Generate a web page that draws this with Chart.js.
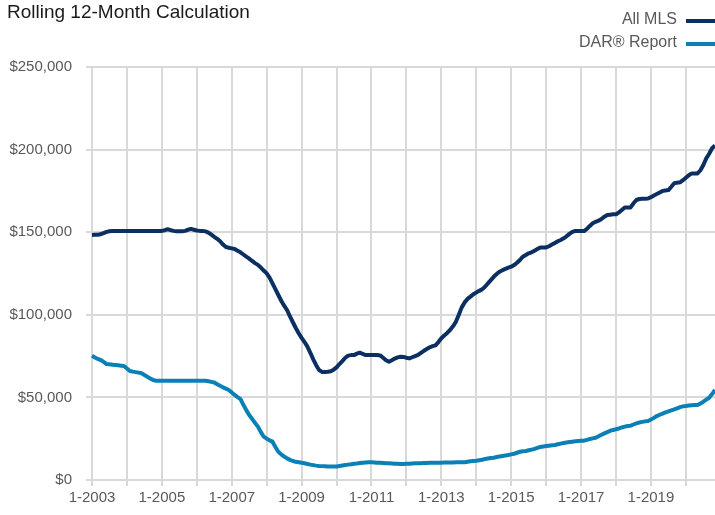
<!DOCTYPE html>
<html>
<head>
<meta charset="utf-8">
<script src="https://cdn.jsdelivr.net/npm/chart.js@4"></script>
<style>
  html, body { margin: 0; padding: 0; background: #fff; overflow: hidden; }
  #wrap { width: 715px; height: 515px; position: relative; }
</style>
</head>
<body>
<div id="wrap"><canvas id="chartRolling"></canvas></div>
<script>
const years = [2003, 2004, 2005, 2006, 2007, 2008, 2009, 2010, 2011,
    2012, 2013, 2014, 2015, 2016, 2017, 2018, 2019, 2020];

// rolling 12-month value, in thousands of dollars, Jan 2003 - Nov 2020
const allMls = [
    148.3, 148.4, 148.5, 148.8, 149.5, 150.2, 150.6, 150.8, 150.8, 150.8, 150.8, 150.8,
    150.8, 150.8, 150.8, 150.8, 150.8, 150.8, 150.8, 150.8, 150.8, 150.8, 150.8, 150.8,
    150.8, 151.2, 151.8, 151.3, 150.8, 150.6, 150.6, 150.6, 150.8, 151.5, 152.0, 151.5,
    151.0, 150.8, 150.8, 150.5, 149.8, 148.5, 147.2, 146.0, 144.5, 142.5, 141.0, 140.6,
    140.2, 139.8, 138.8, 137.8, 136.5, 135.2, 134.0, 132.6, 131.3, 130.2, 128.6, 126.8,
    125.1, 122.5, 119.0, 115.5, 112.0, 108.5, 105.5, 102.9, 99.0, 95.5, 92.0, 88.8,
    86.0, 83.5, 80.7, 77.0, 73.0, 69.5, 66.6, 65.4, 65.4, 65.5, 65.8, 66.8,
    68.2, 70.2, 72.0, 74.0, 75.3, 75.6, 75.6, 76.5, 77.1, 76.3, 75.6, 75.6,
    75.6, 75.6, 75.6, 75.4, 74.0, 72.5, 71.6, 72.5, 73.5, 74.2, 74.6, 74.5,
    74.0, 73.6, 74.3, 75.0, 75.7, 77.0, 78.2, 79.3, 80.3, 81.0, 81.5, 83.5,
    85.8, 87.5, 89.0, 90.8, 93.0, 95.8, 100.0, 104.5, 107.5, 109.6, 111.0, 112.5,
    113.5, 114.5, 115.4, 117.0, 119.0, 121.0, 123.0, 124.7, 126.1, 127.0, 127.8, 128.5,
    129.1, 130.1, 131.5, 133.2, 135.2, 136.2, 137.2, 137.8, 138.8, 139.8, 140.8, 140.8,
    140.8, 141.5, 142.5, 143.5, 144.5, 145.3, 146.3, 147.5, 149.0, 150.2, 150.7, 150.7,
    150.7, 150.7, 152.0, 153.8, 155.4, 156.3, 157.0, 158.0, 159.4, 160.4, 160.6, 160.8,
    160.8, 162.0, 163.5, 165.0, 165.0, 165.0, 167.5, 169.5, 170.1, 170.2, 170.3, 170.4,
    171.2, 172.2, 173.1, 174.0, 175.0, 175.3, 175.5, 177.5, 179.6, 180.0, 180.2, 181.5,
    183.0, 184.5, 185.6, 185.6, 185.6, 187.5, 190.7, 194.7, 197.5, 200.8, 202.5
];

const darReport = [
    75.2, 74.2, 73.3, 72.6, 71.5, 70.2, 70.0, 69.8, 69.6, 69.4, 69.2, 69.0,
    67.5, 66.0, 65.6, 65.3, 65.0, 64.6, 63.6, 62.5, 61.5, 60.5, 60.1, 60.1,
    60.1, 60.1, 60.1, 60.1, 60.1, 60.1, 60.1, 60.1, 60.1, 60.1, 60.1, 60.1,
    60.1, 60.1, 60.1, 60.1, 59.8, 59.4, 59.0, 58.0, 57.0, 56.1, 55.3, 54.5,
    53.0, 51.5, 50.2, 49.0, 45.5, 42.3, 39.3, 37.0, 34.6, 32.3, 29.0, 26.2,
    25.0, 24.0, 23.2, 20.0, 17.1, 15.5, 14.2, 13.1, 12.2, 11.5, 11.0, 10.7,
    10.4, 10.1, 9.7, 9.3, 9.0, 8.7, 8.5, 8.4, 8.3, 8.2, 8.1, 8.1,
    8.2, 8.5, 8.8, 9.1, 9.3, 9.5, 9.8, 10.0, 10.3, 10.5, 10.6, 10.7,
    10.7, 10.6, 10.5, 10.4, 10.3, 10.2, 10.1, 10.0, 9.9, 9.8, 9.7, 9.7,
    9.8, 9.9, 10.0, 10.1, 10.2, 10.2, 10.3, 10.3, 10.4, 10.4, 10.5, 10.5,
    10.5, 10.6, 10.6, 10.6, 10.6, 10.7, 10.7, 10.7, 10.7, 11.0, 11.3, 11.5,
    11.7, 12.0, 12.3, 12.7, 13.0, 13.3, 13.5, 13.9, 14.2, 14.5, 14.8, 15.1,
    15.5, 15.9, 16.5, 17.1, 17.4, 17.6, 18.0, 18.4, 18.8, 19.4, 20.0, 20.3,
    20.6, 20.8, 21.0, 21.2, 21.6, 22.0, 22.4, 22.7, 23.0, 23.2, 23.4, 23.6,
    23.7, 23.8, 24.3, 24.8, 25.2, 25.6, 26.5, 27.4, 28.2, 29.0, 29.8, 30.3,
    30.7, 31.2, 31.8, 32.3, 32.7, 32.9, 33.6, 34.3, 34.8, 35.2, 35.5, 35.7,
    36.6, 37.6, 38.7, 39.5, 40.2, 40.9, 41.5, 42.1, 42.7, 43.4, 44.1, 44.6,
    44.8, 45.1, 45.3, 45.4, 45.4, 46.3, 47.4, 48.6, 49.8, 52.0, 54.5
];

const yTicks = [0, 50000, 100000, 150000, 200000, 250000];

// month labels "m-yyyy", one per data point
const months = [];
years.forEach(y => {
    for (let m = 1; m <= 12; m++) months.push(m + "-" + y);
});
months.length = allMls.length;

const FONT = "'Liberation Sans', Arial, sans-serif";
const GRID = "#d9d9d9";

const legendRight = {
    id: "legendRight",
    afterDraw(chart) {
        const c = chart.ctx;
        c.save();
        c.font = "16px " + FONT;
        c.fillStyle = "#595959";
        c.textAlign = "right";
        c.textBaseline = "middle";
        chart.data.datasets.forEach((ds, i) => {
            const y = 20 + i * 23;
            c.fillText(ds.label, 677, y);
            c.strokeStyle = ds.borderColor;
            c.lineWidth = 4;
            c.beginPath();
            c.moveTo(686, y + 1);
            c.lineTo(720, y + 1);
            c.stroke();
        });
        c.font = "19px " + FONT;
        c.fillStyle = "#1a1a1a";
        c.textAlign = "left";
        c.fillText("Rolling 12-Month Calculation", 7, 13);
        c.restore();
    }
};

const configRolling = {
    type: "line",
    data: {
        labels: months,
        datasets: [{
            label: "All MLS",
            data: allMls.map(v => v * 1000),
            borderColor: "#0c2f62",
        }, {
            label: "DAR\u00AE Report",
            data: darReport.map(v => v * 1000),
            borderColor: "#0a80b6",
        }],
    },
    options: {
        responsive: false,
        animation: false,
        layout: { padding: { top: 67, right: 0, left: 0, bottom: 0 } },
        elements: {
            line: { borderWidth: 4, tension: 0, borderJoinStyle: "round", fill: false },
            point: { radius: 0 },
        },
        plugins: {
            legend: { display: false },
            title: { display: false },
            tooltip: { enabled: false },
        },
        scales: {
            x: {
                offset: false,
                border: { display: false },
                grid: {
                    color: ctx => (ctx.index % 12 === 0 ? GRID : "rgba(0,0,0,0)"),
                    lineWidth: 2,
                    tickLength: 6,
                },
                ticks: {
                    autoSkip: false,
                    maxRotation: 0,
                    padding: 3,
                    color: "#595959",
                    font: { family: FONT, size: 15 },
                    callback: (v, i) => (i % 24 === 0 ? months[i] : ""),
                },
                afterFit: s => { s.height = 35; s.paddingRight = 0; },
            },
            y: {
                min: 0,
                max: 250000,
                border: { display: false },
                afterBuildTicks: s => { s.ticks = yTicks.map(v => ({ value: v })); },
                grid: { color: GRID, lineWidth: 2, tickLength: 6 },
                ticks: {
                    padding: 14,
                    color: "#595959",
                    font: { family: FONT, size: 15 },
                    callback: v => "$" + v.toLocaleString("en-US"),
                },
                afterFit: s => { s.width = 92; },
            },
        },
    },
    plugins: [legendRight],
};

const cv = document.getElementById("chartRolling");
cv.width = 715;
cv.height = 515;
var chartRolling = new Chart(cv, configRolling);
</script>
</body>
</html>
